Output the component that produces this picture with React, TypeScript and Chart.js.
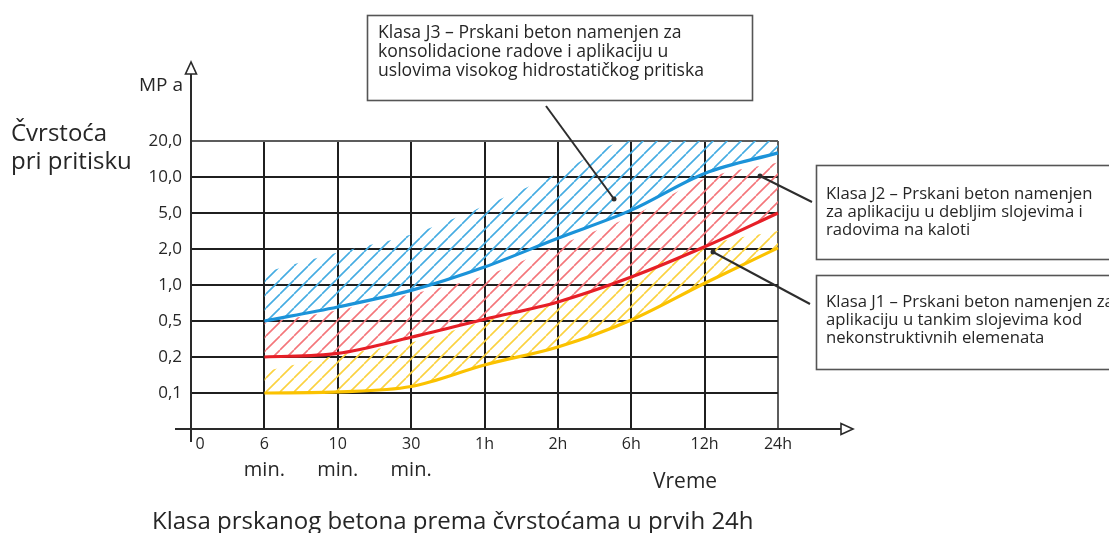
import { useEffect, useRef } from 'react';
import { Chart, registerables } from 'chart.js';

Chart.register(...registerables);

// Time categories (x) and strength classes (y, MPa)
const xLabels = ['\u2007\u20070', '6', '10', '30', '1h', '2h', '6h', '12h', '24h'];
const xUnits = ['', 'min.', 'min.', 'min.', '', '', '', '', ''];
const yLabels = ['', '0,1', '0,2', '0,5', '1,0', '2,0', '5,0', '10,0', '20,0'];

// Values on the class-index axis (1 = 0,1 MPa, 2 = 0,2, 3 = 0,5, 4 = 1,0, 5 = 2,0, 6 = 5,0, 7 = 10,0, 8 = 20,0)
const j1Line = [null, 1.0, 1.03, 1.18, 1.78, 2.28, 3.03, 4.05, 5.03];
const j1Upper = [null, 1.6, 2.05, 2.4, 3.0, 3.5, 4.3, 5.1, 5.5];
const j2Line = [null, 2.0, 2.1, 2.55, 3.05, 3.53, 4.22, 5.06, 6.0];
const j2Upper = [null, 2.95, 3.3, 3.75, 4.25, 5.1, 5.9, 6.95, 7.4];
const j3Line = [null, 3.0, 3.39, 3.85, 4.5, 5.3, 6.08, 7.1, 7.67];
const j3Upper = [null, 4.35, 4.9, 5.4, 6.2, 7.1, 8.0, 8.0, 8.0];

const FONT = '"Open Sans", "Noto Sans", sans-serif';
const TEXT = '#262626';
const BLUE = '#1b93d9';
const RED = '#e61f27';
const YELLOW = '#fbc200';

const boxJ3 = [
  'Klasa J3 \u2013 Prskani beton namenjen za',
  'konsolidacione radove i aplikaciju u',
  'uslovima visokog hidrostatičkog pritiska',
];
const boxJ2 = [
  'Klasa J2 \u2013 Prskani beton namenjen',
  'za aplikaciju u debljim slojevima i',
  'radovima na kaloti',
];
const boxJ1 = [
  'Klasa J1 \u2013 Prskani beton namenjen za',
  'aplikaciju u tankim slojevima kod',
  'nekonstruktivnih elemenata',
];

function makeHatch(color: string): CanvasPattern | string {
  const w = 14;
  const h = 14;
  const c = document.createElement('canvas');
  c.width = w;
  c.height = h;
  const g = c.getContext('2d');
  if (!g) return color;
  g.strokeStyle = color;
  g.lineWidth = 1.6;
  g.beginPath();
  for (let k = -1; k <= 1; k++) {
    g.moveTo(k * w, h);
    g.lineTo(k * w + w, 0);
  }
  g.stroke();
  return g.createPattern(c, 'repeat') || color;
}

const decorPlugin = {
  id: 'decor',
  afterDraw(chart: any) {
    const ctx: CanvasRenderingContext2D = chart.ctx;
    const xs = chart.scales.x;
    const left = chart.chartArea.left;
    const bottom = chart.chartArea.bottom;
    ctx.save();

    // axes with open arrow heads
    ctx.strokeStyle = '#2a2a2a';
    ctx.lineWidth = 2;
    ctx.beginPath();
    ctx.moveTo(left, 74);
    ctx.lineTo(left, 442);
    ctx.moveTo(175, bottom);
    ctx.lineTo(841, bottom);
    ctx.stroke();
    ctx.fillStyle = '#ffffff';
    ctx.lineWidth = 1.6;
    ctx.beginPath();
    ctx.moveTo(left, 62);
    ctx.lineTo(left - 5.5, 74);
    ctx.lineTo(left + 5.5, 74);
    ctx.closePath();
    ctx.fill();
    ctx.stroke();
    ctx.beginPath();
    ctx.moveTo(853, bottom);
    ctx.lineTo(841, bottom - 5.5);
    ctx.lineTo(841, bottom + 5.5);
    ctx.closePath();
    ctx.fill();
    ctx.stroke();

    // unit line under the x tick labels
    ctx.fillStyle = TEXT;
    ctx.textAlign = 'center';
    ctx.textBaseline = 'alphabetic';
    ctx.font = `20px ${FONT}`;
    xUnits.forEach((u, i) => {
      if (u) ctx.fillText(u, xs.getPixelForValue(i), 476);
    });

    // axis titles and caption
    ctx.textAlign = 'right';
    ctx.font = `19px ${FONT}`;
    ctx.fillText('MP a', 183, 91);
    ctx.textAlign = 'left';
    ctx.font = `24px ${FONT}`;
    ctx.fillText('Čvrstoća', 11, 141);
    ctx.fillText('pri pritisku', 11, 169);
    ctx.font = `21px ${FONT}`;
    ctx.fillText('Vreme', 653, 488);
    ctx.font = `24px ${FONT}`;
    ctx.fillText('Klasa prskanog betona prema čvrstoćama u prvih 24h', 152, 529);

    // leader lines
    const leader = (x1: number, y1: number, x2: number, y2: number) => {
      ctx.strokeStyle = '#2d2d2d';
      ctx.lineWidth = 2;
      ctx.beginPath();
      ctx.moveTo(x1, y1);
      ctx.lineTo(x2, y2);
      ctx.stroke();
      ctx.fillStyle = '#2d2d2d';
      ctx.beginPath();
      ctx.arc(x2, y2, 2.5, 0, Math.PI * 2);
      ctx.fill();
    };
    leader(546, 106, 614, 199);
    leader(812, 202, 760, 176);
    leader(810, 304, 713, 252);

    // annotation boxes
    const box = (x: number, y: number, w: number, h: number, lines: string[], tx: number, ty: number, size: number, step: number) => {
      ctx.fillStyle = '#ffffff';
      ctx.fillRect(x, y, w, h);
      ctx.strokeStyle = '#555555';
      ctx.lineWidth = 1.6;
      ctx.strokeRect(x, y, w, h);
      ctx.fillStyle = TEXT;
      ctx.font = `${size}px ${FONT}`;
      ctx.textAlign = 'left';
      lines.forEach((l, i) => ctx.fillText(l, tx, ty + i * step));
    };
    box(367.5, 15.5, 385, 85, boxJ3, 378, 38, 17.6, 19);
    box(816.5, 165.5, 320, 94, boxJ2, 826, 199, 16.7, 18);
    box(816.5, 275.5, 320, 94, boxJ1, 826, 307, 16.7, 18);

    ctx.restore();
  },
};

export default function App() {
  const ref = useRef<HTMLCanvasElement | null>(null);

  useEffect(() => {
    document.body.style.margin = '0';
    const canvas = ref.current;
    if (!canvas) return;
    const hatchY = makeHatch('#fbd240');
    const hatchR = makeHatch('#f4767b');
    const hatchB = makeHatch('#45ace2');

    const lineDs = (label: string, data: (number | null)[], color: string) => ({
      label,
      data,
      borderColor: color,
      borderWidth: 3.2,
      pointRadius: 0,
      fill: false,
      cubicInterpolationMode: 'monotone',
      clip: 6,
    });
    const zoneDs = (label: string, data: (number | null)[], pattern: any) => ({
      label,
      data,
      borderColor: 'rgba(0,0,0,0)',
      borderWidth: 0,
      pointRadius: 0,
      backgroundColor: pattern,
      fill: '-1',
      cubicInterpolationMode: 'monotone',
    });

    const gridColor = (ctx: any) => {
      const v = ctx.tick ? ctx.tick.value : ctx.index;
      if (v === 0) return 'rgba(0,0,0,0)';
      if (v === 8) return '#5c5c5c';
      return '#1f1f1f';
    };

    const chart = new Chart(canvas, {
      type: 'line',
      data: {
        labels: xLabels,
        datasets: [
          lineDs('J1', j1Line, YELLOW),
          zoneDs('J1 zona', j1Upper, hatchY),
          lineDs('J2', j2Line, RED),
          zoneDs('J2 zona', j2Upper, hatchR),
          lineDs('J3', j3Line, BLUE),
          zoneDs('J3 zona', j3Upper, hatchB),
        ] as any,
      },
      plugins: [decorPlugin],
      options: {
        responsive: false,
        animation: false,
        layout: { padding: { left: 0, right: 331, top: 141, bottom: 0 } },
        plugins: {
          legend: { display: false },
          tooltip: { enabled: false },
          filler: { drawTime: 'beforeDatasetsDraw' },
        } as any,
        scales: {
          x: {
            type: 'category',
            offset: false,
            border: { display: false },
            grid: { color: gridColor, lineWidth: 2, drawTicks: false },
            ticks: {
              autoSkip: false,
              maxRotation: 0,
              padding: 6,
              color: TEXT,
              font: { family: FONT, size: 16 },
            },
            afterFit: (s: any) => {
              s.height = 104;
            },
          },
          y: {
            type: 'linear',
            min: 0,
            max: 8,
            border: { display: false },
            grid: { color: gridColor, lineWidth: 2, drawTicks: false },
            ticks: {
              stepSize: 1,
              padding: 9,
              color: TEXT,
              font: { family: FONT, size: 17 },
              callback: (v: any) => yLabels[Number(v)] ?? '',
            },
            afterFit: (s: any) => {
              s.width = 191;
            },
          },
        } as any,
      },
    });
    return () => chart.destroy();
  }, []);

  return (
    <div style={{ width: 1109, height: 533, background: '#ffffff' }}>
      <canvas ref={ref} width={1109} height={533} style={{ display: 'block', width: 1109, height: 533 }} />
    </div>
  );
}
